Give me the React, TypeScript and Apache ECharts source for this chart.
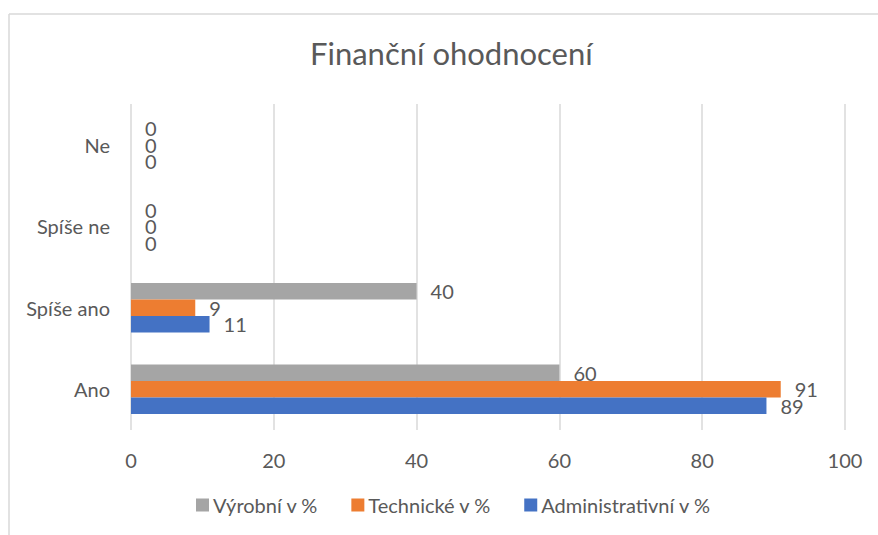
import React, { useEffect, useRef } from "react";
import * as echarts from "echarts";

const categories = ["Ano", "Spíše ano", "Spíše ne", "Ne"];
const seriesNames = ["Výrobní v %", "Technické v %", "Administrativní v %"];
const vyrobni = [60, 40, 0, 0];
const technicke = [91, 9, 0, 0];
const administrativni = [89, 11, 0, 0];
const colors = ["#a5a5a5", "#ed7d31", "#4472c4"];
const xTicks = { min: 0, max: 100, interval: 20 };
const title = "Finanční ohodnocení";

const FONT = "Lato, 'Noto Sans', sans-serif";
const TEXT = "#595959";

export default function App() {
  const ref = useRef<HTMLDivElement>(null);
  useEffect(() => {
    document.body.style.margin = "0";
    const chart = echarts.init(ref.current!, null, { renderer: "svg" });
    const data = [vyrobni, technicke, administrativni];
    chart.setOption({
      animation: false,
      backgroundColor: "#ffffff",
      textStyle: { fontFamily: FONT },
      title: {
        text: title,
        left: 305,
        top: 32,
        textStyle: { fontFamily: FONT, fontSize: 31, fontWeight: "normal", color: TEXT },
      },
      graphic: [
        { type: "line", shape: { x1: 9, y1: 14, x2: 878, y2: 14 }, style: { stroke: "#d9d9d9", lineWidth: 1.5 } },
        { type: "line", shape: { x1: 9, y1: 14, x2: 9, y2: 535 }, style: { stroke: "#d9d9d9", lineWidth: 1.5 } },
      ],
      legend: {
        bottom: 15,
        left: 191,
        itemWidth: 13,
        itemHeight: 13,
        itemGap: 33,
        icon: "rect",
        textStyle: { fontFamily: FONT, fontSize: 20, color: TEXT, padding: [0, 0, 0, -1] },
        data: seriesNames,
      },
      grid: { left: 131, right: 33, top: 104, bottom: 105 },
      xAxis: {
        type: "value",
        min: xTicks.min,
        max: xTicks.max,
        interval: xTicks.interval,
        axisLine: { show: false },
        axisTick: { show: false },
        splitLine: { lineStyle: { color: "#d9d9d9", width: 1.5 } },
        axisLabel: { fontFamily: FONT, fontSize: 20, color: TEXT, margin: 20 },
      },
      yAxis: {
        type: "category",
        data: categories,
        axisLine: { show: false },
        axisTick: { show: false },
        axisLabel: { fontFamily: FONT, fontSize: 20, color: TEXT, margin: 21 },
      },
      series: seriesNames.map((name, i) => ({
        name,
        type: "bar",
        data: data[i],
        barGap: "0%",
        barCategoryGap: "39%",
        itemStyle: { color: colors[i] },
        label: {
          show: true,
          position: "right",
          distance: 14,
          fontFamily: FONT,
          fontSize: 20,
          lineHeight: 16,
          color: TEXT,
        },
      })),
    });
    return () => chart.dispose();
  }, []);
  return <div ref={ref} style={{ width: 878, height: 535 }} />;
}
